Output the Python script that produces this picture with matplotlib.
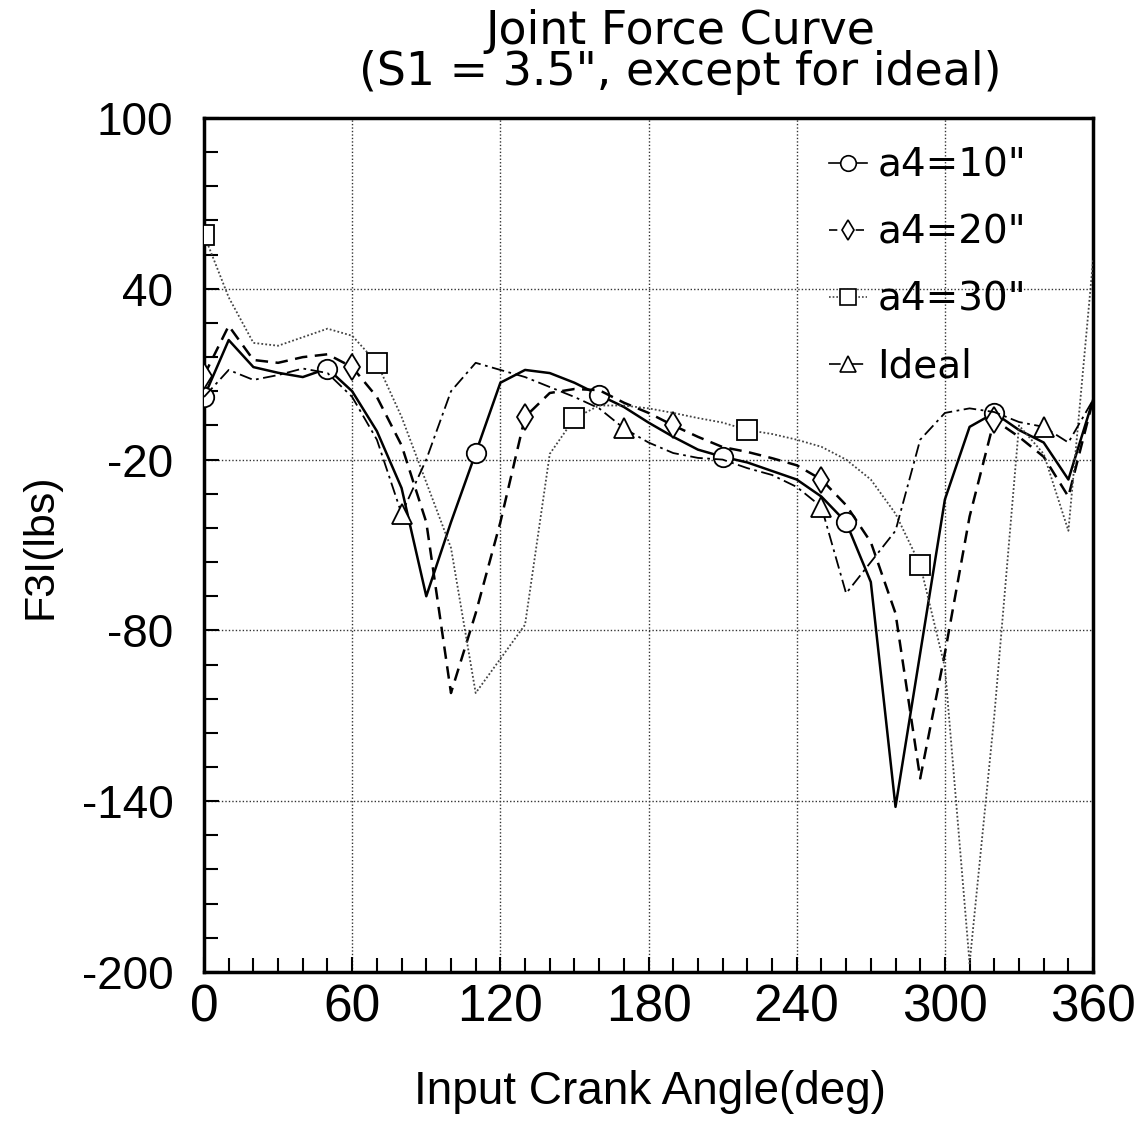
import numpy as np
import matplotlib
matplotlib.use("Agg")
import matplotlib.pyplot as plt
from matplotlib.lines import Line2D

# crank angle (deg), one reading every 10 degrees
angle = [0, 10, 20, 30, 40, 50, 60, 70, 80, 90, 100, 110, 120, 130, 140, 150,
         160, 170, 180, 190, 200, 210, 220, 230, 240, 250, 260, 270, 280, 290,
         300, 310, 320, 330, 340, 350, 360]

# F3I (lbs) for each case
f_a4_10 = [2, 22, 12.5, 10.5, 9, 12, 4, -10, -30, -68, -42, -17.7, 7, 11.5,
           10.4, 7, 2.7, -1.5, -7, -12, -16.5, -19, -21, -24, -27, -33, -42,
           -63, -142, -88, -34, -8.5, -3.6, -9.6, -14, -27, 1]
f_a4_20 = [9.5, 27, 15, 14, 16, 17, 12.5, 2, -15, -42, -102, -74, -42, -5,
           3.4, 4.8, 4.4, 0, -3.6, -8, -12, -15.6, -17.3, -19.5, -22, -27, -36,
           -49, -74, -132, -88, -40, -6, -12, -19, -33, 1]
f_a4_30 = [59, 37, 21, 20, 23, 26, 23.5, 14, -5, -28, -51, -102, -90, -78,
           -18, -5.5, -1, -1, -2, -3.6, -5.4, -7, -9.6, -11, -13, -15.5, -20,
           -27, -39, -57, -93, -197, -110, -8, -18, -45, 50]
f_ideal = [2, 11.5, 8, 9.7, 12, 10.4, 2, -13, -39, -20, 4, 14, 11.5, 9, 5.5,
           2, -2, -9, -14, -17.7, -19.4, -20, -23, -25.4, -29.6, -36.6, -67,
           -56, -45, -13, -3.6, -2, -3.3, -6.8, -8.5, -14, 1]

labels = ['a4=10"', 'a4=20"', 'a4=30"', 'Ideal']

# which points carry a symbol
marks_10 = [0, 5, 11, 16, 21, 26, 32]
marks_20 = [0, 6, 13, 19, 25, 32]
marks_30 = [0, 7, 15, 22, 29]
marks_ideal = [8, 17, 25, 34]

SANS = 'Liberation Sans'
WIDE = 'DejaVu Sans'
plt.rcParams['axes.unicode_minus'] = False

fig = plt.figure(figsize=(11.41, 11.23), dpi=100)
ax = fig.add_axes([0.1788, 0.1345, 0.7792, 0.7604])

styles = [
    dict(y=f_a4_10, ls='-', lw=1.8, color='black', marker='o', ms=14,
         mev=marks_10),
    dict(y=f_a4_20, ls=(0, (5, 3)), lw=1.8, color='black', marker='d', ms=13,
         mev=marks_20),
    dict(y=f_a4_30, ls=(0, (1, 1.2)), lw=1.3, color='#444444', marker='s',
         ms=15, mev=marks_30),
    dict(y=f_ideal, ls=(0, (7, 2.5, 1.5, 2.5)), lw=1.3, color='black',
         marker='^', ms=14, mev=marks_ideal),
]

handles = []
for st, lab in zip(styles, labels):
    ax.plot(angle, st['y'], linestyle=st['ls'], linewidth=st['lw'],
            color=st['color'], marker=st['marker'], markersize=st['ms'],
            markevery=st['mev'], markerfacecolor='white',
            markeredgecolor='black', markeredgewidth=1.3, zorder=3)
    handles.append(Line2D([], [], linestyle=st['ls'], linewidth=1.2,
                          color=st['color'], marker=st['marker'],
                          markersize=st['ms'] * 0.8, markerfacecolor='white',
                          markeredgecolor='black', markeredgewidth=1.2,
                          label=lab))

ax.set_xlim(0, 360)
ax.set_ylim(-200, 100)
ax.set_xticks(np.arange(0, 361, 60))
ax.set_xticks(np.arange(0, 361, 10), minor=True)
ax.set_yticks(np.arange(-200, 101, 60))
ax.set_yticks(np.arange(-200, 101, 12), minor=True)

ax.grid(True, which='major', linestyle=(0, (1, 1.5)), color='#333333',
        linewidth=1.0)
ax.tick_params(which='both', direction='in', top=False, right=False,
               width=1.5, color='black')
ax.tick_params(which='major', length=11)
ax.tick_params(which='minor', length=10)
ax.tick_params(axis='y', pad=22)
ax.tick_params(axis='x', pad=8)
for lab in ax.get_xticklabels():
    lab.set_fontfamily(SANS)
    lab.set_fontsize(37)
for lab in ax.get_yticklabels():
    lab.set_fontfamily(SANS)
    lab.set_fontsize(33)

for sp in ax.spines.values():
    sp.set_linewidth(2.5)

fig.text(0.5695, 1 - 1092 / 1123, 'Input Crank Angle(deg)', ha='center',
         va='center', fontfamily=SANS, fontsize=33)
fig.text(40 / 1141, 1 - 546 / 1123, 'F3I(lbs)', ha='center', va='center',
         rotation=90, fontfamily=SANS, fontsize=31)

fig.text(680 / 1141, 0.992, 'Joint Force Curve\n(S1 = 3.5", except for ideal)',
         ha='center', va='top', fontfamily=WIDE, fontsize=33,
         linespacing=0.88)

leg = ax.legend(handles=handles, loc='upper left',
                bbox_to_anchor=(0.685, 0.985), frameon=False,
                prop={'family': WIDE, 'size': 28}, handlelength=1.0,
                handletextpad=0.25, labelspacing=0.75, numpoints=1,
                borderaxespad=0)

fig.savefig('out.png', dpi=100, facecolor='white')
